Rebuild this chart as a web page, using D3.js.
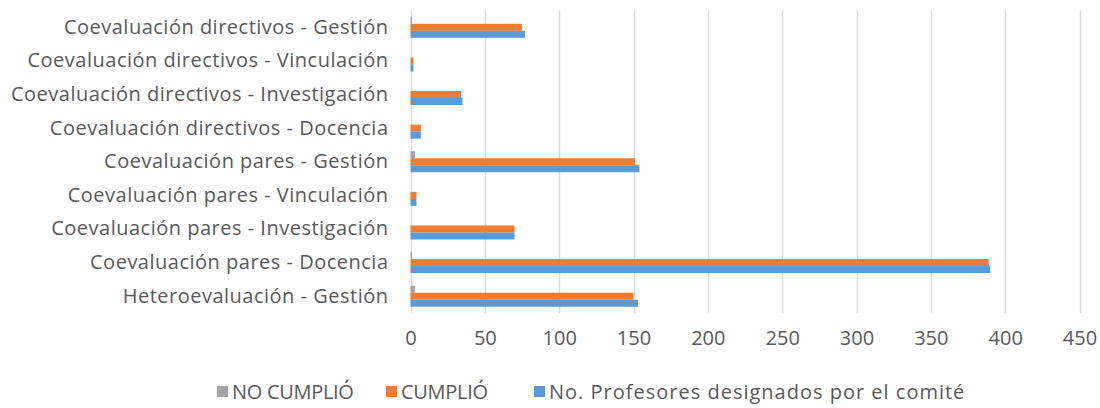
<!DOCTYPE html>
<html><head><meta charset="utf-8">
<script src="https://cdn.jsdelivr.net/npm/d3@7"></script>
<style>body{margin:0;background:#fff}svg{display:block}text{font-family:"Open Sans",sans-serif;fill:#595959}</style>
</head><body><svg id="c" width="1100" height="408"></svg>
<script>
const categories = ["Coevaluación directivos - Gestión","Coevaluación directivos - Vinculación","Coevaluación directivos - Investigación","Coevaluación directivos - Docencia","Coevaluación pares - Gestión","Coevaluación pares - Vinculación","Coevaluación pares - Investigación","Coevaluación pares - Docencia","Heteroevaluación - Gestión"];
const seriesNames = ["NO CUMPLIÓ","CUMPLIÓ","No. Profesores designados por el comité"];
const noCumplio = [1,0,0,0,3,0,0,1,3];
const cumplio = [75,2,34,7,151,4,70,389,150];
const profesores = [77,2,35,7,154,4,70,390,153];
const xTicks = [0,50,100,150,200,250,300,350,400,450];
const colors = ["#a5a5a5","#ed7d31","#5b9bd5"];

const svg = d3.select("#c");
const m = {l:410.5, r:1079.5, t:10.5, b:313};
const x = d3.scaleLinear().domain([0,450]).range([m.l,m.r]);
const y = d3.scaleBand().domain(categories).range([m.t,m.b]).paddingInner(0.375).paddingOuter(0.1875);
const sub = d3.scaleBand().domain([0,1,2]).range([0,y.bandwidth()]);
const fs = "20px";

svg.append("g").selectAll("line").data(xTicks).join("line")
  .attr("x1",d=>Math.round(x(d))+0.5).attr("x2",d=>Math.round(x(d))+0.5)
  .attr("y1",m.t).attr("y2",m.b).attr("stroke","#d9d9d9").attr("stroke-width",1.5);

const series = [noCumplio,cumplio,profesores];
series.forEach((vals,si)=>{
  svg.append("g").selectAll("rect").data(vals).join("rect")
    .attr("x",x(0)).attr("y",(d,i)=>y(categories[i])+sub(si))
    .attr("width",d=>x(d)-x(0)).attr("height",sub.bandwidth())
    .attr("fill",colors[si]);
});

const yAxis = d3.axisLeft(y).tickSize(0).tickPadding(22);
const gy = svg.append("g").attr("transform",`translate(${m.l},0)`).call(yAxis);
gy.select(".domain").remove();
gy.selectAll("text").style("font-size",fs).style("letter-spacing","0.5px").style("font-family","'Open Sans',sans-serif").attr("fill","#595959");

const xAxis = d3.axisBottom(x).tickValues(xTicks).tickSize(0).tickPadding(0);
const gx = svg.append("g").attr("transform",`translate(0,339)`).call(xAxis);
gx.select(".domain").remove();
gx.selectAll("text").style("font-size",fs).style("font-family","'Open Sans',sans-serif").attr("dy","0.32em").attr("fill","#595959");

const legendX = [217,386,534];
const lg = svg.append("g");
seriesNames.forEach((n,i)=>{
  lg.append("rect").attr("x",legendX[i]).attr("y",386).attr("width",11).attr("height",11).attr("fill",colors[i]);
  lg.append("text").attr("x",legendX[i]+15).attr("y",392).attr("dy","0.35em").style("font-size",fs)
    .style("letter-spacing", n === n.toUpperCase() ? "-0.3px" : "1px").text(n);
});
</script></body></html>
